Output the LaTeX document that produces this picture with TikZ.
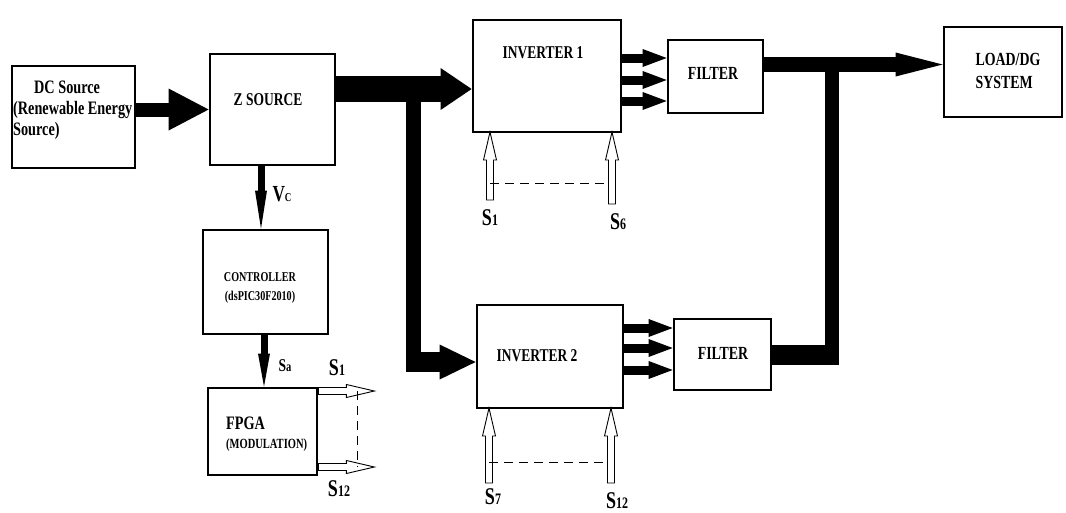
\documentclass[tikz,border=0pt]{standalone}
\usepackage{fontspec}
\setmainfont{Liberation Serif}[FakeStretch=0.75]
\usetikzlibrary{arrows.meta}
\begin{document}
\begin{tikzpicture}[x=1pt,y=-1pt,
  box/.style n args={2}{draw, line width=2.8pt, minimum width=#1, minimum height=#2, inner sep=0pt},
  txt/.style={inner sep=0pt, font=\bfseries\fontsize{#1}{#1}\selectfont},
  txt/.default=18pt,
  fat/.style n args={3}{line width=#1, -{Triangle[length=#2,width=#3,line width=0pt]}},
  oline/.style={draw, line width=0.9pt, fill=white, line join=miter},
  dashline/.style={line width=0.9pt, dash pattern=on 9pt off 6pt},
  pics/oarr/.style={code={\draw[oline] (0,-3.5) -- ({#1-28},-3.5) -- ({#1-28},-6.5) -- (#1,0) -- ({#1-28},6.5) -- ({#1-28},3.5) -- (0,3.5) -- cycle;}}
]
\useasboundingbox (0,0) rectangle (1066,512);

% boxes
\node[box={123pt}{102pt}] (dc)   at (73.5,117) {};
\node[box={125pt}{111pt}] (zs)   at (272.5,109.5) {};
\node[box={148pt}{112pt}] (inv1) at (547,76) {};
\node[box={95pt}{73pt}]   (f1)   at (715.5,76.5) {};
\node[box={118pt}{90pt}]  (load) at (1003,72) {};
\node[box={146pt}{103pt}] (inv2) at (550,356.5) {};
\node[box={97pt}{71pt}]   (f2)   at (722.5,354.5) {};
\node[box={125pt}{104pt}] (ctrl) at (265.5,282) {};
\node[box={109pt}{87pt}]  (fpga) at (262.5,431.5) {};

% texts
\node[txt=19pt, align=left, anchor=west] (dct) at (13,110) {\hspace*{21pt}DC Source\\[2pt](Renewable Energy\\[2pt]Source)};
\node[txt=18pt] (zst) at (268,100) {Z SOURCE};
\node[txt=18pt] (inv1t) at (543,53) {INVERTER 1};
\node[txt=18.5pt] (f1t) at (713,73) {FILTER};
\node[txt=18.5pt, align=left] (loadt) at (1008,71) {LOAD/DG\\[4pt]SYSTEM};
\node[txt=18pt] (inv2t) at (537,356) {INVERTER 2};
\node[txt=18.5pt] (f2t) at (723,353) {FILTER};
\node[txt=13.5pt] (ctrlt) at (260,277) {CONTROLLER};
\node[txt=13.5pt] (ctrlt2) at (260,297) {(dsPIC30F2010)};
\node[txt=19pt, anchor=west] (fpgat) at (226,423) {FPGA};
\node[txt=14pt, anchor=west] (fpgat2) at (226,445) {(MODULATION)};

% thick power path
\draw[fat={14pt}{40pt}{42pt}] (dc.east |- zs.west) -- (zs.west);
\coordinate (j1) at (413.5,89);
\coordinate (j2) at (413.5,362);
\draw[fat={26pt}{31pt}{42pt}] (zs.east |- j1) -- (inv1.west |- j1);
\draw[line width=15pt] (j1) -- ([yshift=-10pt]j2);
\draw[fat={20pt}{36pt}{35pt}] ([xshift=-7.5pt]j2) -- (inv2.west |- j2);

\foreach \yy [count=\i] in {58,80,101} {
  \coordinate (a\i) at (0,\yy);
  \draw[fat={9pt}{24pt}{18pt}] (inv1.east |- a\i) -- (f1.west |- a\i);
}
\foreach \yy [count=\i] in {328,348,370} {
  \coordinate (b\i) at (0,\yy);
  \draw[fat={9pt}{24pt}{18pt}] (inv2.east |- b\i) -- (f2.west |- b\i);
}

\coordinate (j3) at (832,64.5);
\coordinate (j4) at (832,355);
\draw[fat={15pt}{47pt}{24pt}] (f1.east |- j3) -- (load.west |- j3);
\draw[line width=14pt] ([yshift=-10pt]j4) -- ([yshift=7.5pt]j3);
\draw[line width=20pt] (f2.east |- j4) -- ([xshift=7pt]j4);

% control path
\coordinate (c1) at (261,0);
\coordinate (c2) at (264,0);
\draw[fat={7pt}{38pt}{12pt}] (zs.south -| c1) -- (ctrl.north -| c1);
\draw[fat={7pt}{33pt}{12pt}] (ctrl.south -| c2) -- (fpga.north -| c2);
\node[txt=23pt] (vc) at (282,194) {V{\fontsize{12pt}{12pt}\selectfont C}};
\node[txt=18pt] (sa) at (285,366) {S{\fontsize{14pt}{14pt}\selectfont a}};

% FPGA gate outputs
\coordinate (o1) at (0,391);
\coordinate (o2) at (0,467);
\pic at (fpga.east |- o1) {oarr=56};
\pic at (fpga.east |- o2) {oarr=56};
\coordinate (od1) at (357,391);
\coordinate (od2) at (357,467);
\draw[dashline] (od1) -- (od2);
\node[txt=24pt] (fs1) at (337,368) {S{\fontsize{16pt}{16pt}\selectfont 1}};
\node[txt=24pt] (fs12) at (339,489) {S{\fontsize{16pt}{16pt}\selectfont 12}};

% inverter 1 gate inputs
\coordinate (g1) at (490,200);
\coordinate (g6) at (612,204);
\pic[rotate=90] at (g1) {oarr=68};
\pic[rotate=90] at (g6) {oarr=72};
\coordinate (d1) at (490,183);
\coordinate (d6) at (608,183);
\draw[dashline] (d1) -- (d6);
\node[txt=24pt] (l1) at (490,218) {S{\fontsize{16pt}{16pt}\selectfont 1}};
\node[txt=24pt] (l6) at (618,222) {S{\fontsize{16pt}{16pt}\selectfont 6}};

% inverter 2 gate inputs
\coordinate (g7) at (489,483);
\coordinate (g12) at (611,483);
\pic[rotate=90] at (g7) {oarr=75};
\pic[rotate=90] at (g12) {oarr=75};
\coordinate (d7) at (489,462);
\coordinate (d12) at (607,462);
\draw[dashline] (d7) -- (d12);
\node[txt=24pt] (l7) at (493,497) {S{\fontsize{16pt}{16pt}\selectfont 7}};
\node[txt=24pt] (l12) at (617,501) {S{\fontsize{16pt}{16pt}\selectfont 12}};
\end{tikzpicture}
\end{document}
